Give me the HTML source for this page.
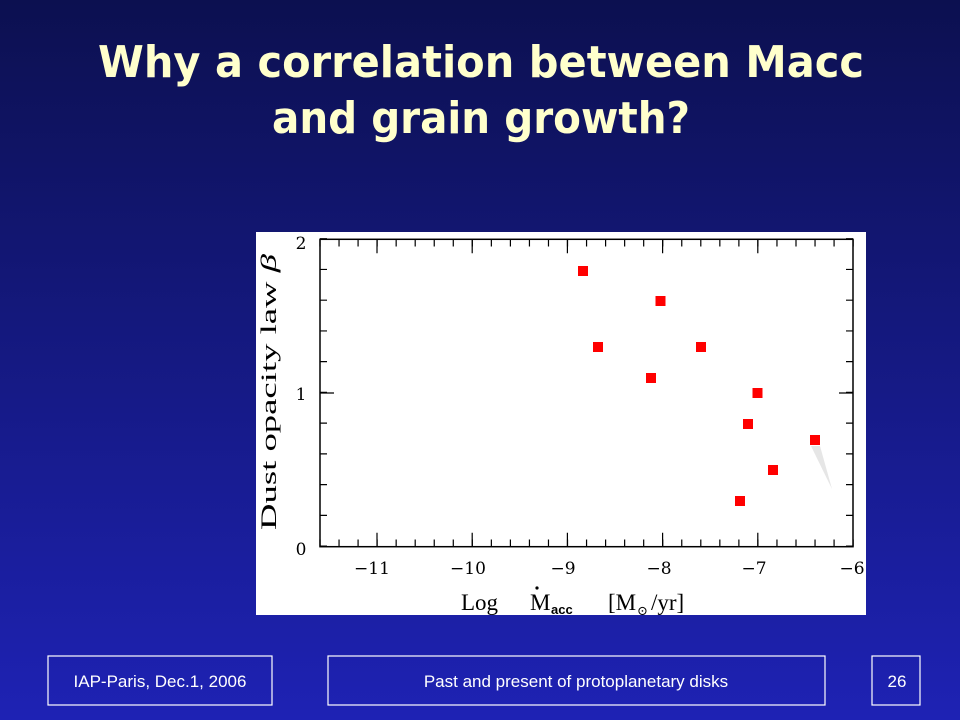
<!DOCTYPE html>
<html><head><meta charset="utf-8"><style>
html,body{margin:0;padding:0;width:960px;height:720px;overflow:hidden}
</style></head><body>
<svg width="960" height="720" xmlns="http://www.w3.org/2000/svg">
<defs><linearGradient id="bg" x1="0" y1="0" x2="0" y2="1">
<stop offset="0" stop-color="#0c1050"/><stop offset="1" stop-color="#1e22b4"/></linearGradient></defs>
<rect width="960" height="720" fill="url(#bg)"/>
<g fill="#ffffcc" font-family="'DejaVu Sans',sans-serif" font-weight="bold" font-size="44" text-anchor="middle">
<text x="481" y="77" textLength="766" lengthAdjust="spacingAndGlyphs">Why a correlation between Macc</text>
<text x="481" y="133" textLength="418" lengthAdjust="spacingAndGlyphs">and grain growth?</text>
</g>
<rect x="256" y="232" width="610" height="383" fill="#fff"/>
<g stroke="#000" fill="none">
<rect x="320" y="239.3" width="533" height="307.4" stroke-width="1.5"/>
<line x1="319.4" y1="543" x2="854" y2="543" stroke-width="7" stroke-dasharray="1.2 17.84"/>
<line x1="319.4" y1="243" x2="854" y2="243" stroke-width="7" stroke-dasharray="1.2 17.84"/>
<line x1="323.5" y1="546.7" x2="323.5" y2="238" stroke-width="7" stroke-dasharray="1.2 29.54"/>
<line x1="849.5" y1="546.7" x2="849.5" y2="238" stroke-width="7" stroke-dasharray="1.2 29.54"/>
<path stroke-width="1.2" d="M377 546.7v-14M472.2 546.7v-14M567.4 546.7v-14M662.6 546.7v-14M757.8 546.7v-14
M377 239.3v14M472.2 239.3v14M567.4 239.3v14M662.6 239.3v14M757.8 239.3v14
M320 393h14M853 393h-14"/>
</g>
<path d="M811 446 L820 446 L832 489 Z" fill="#e6e6e6"/>
<g fill="#ff0000">
<rect x="578" y="266" width="10" height="10"/>
<rect x="593" y="342" width="10" height="10"/>
<rect x="655.5" y="296" width="10" height="10"/>
<rect x="646" y="373" width="10" height="10"/>
<rect x="696" y="342" width="10" height="10"/>
<rect x="752.5" y="388" width="10" height="10"/>
<rect x="743" y="419" width="10" height="10"/>
<rect x="810" y="435" width="10" height="10"/>
<rect x="768" y="465" width="10" height="10"/>
<rect x="735" y="496" width="10" height="10"/>
</g>
<g font-family="'DejaVu Serif','Liberation Serif',serif" font-size="17" fill="#000">
<text x="301" y="249" text-anchor="middle">2</text>
<text x="301" y="400" text-anchor="middle">1</text>
<text x="301" y="555" text-anchor="middle">0</text>
<g text-anchor="middle">
<text x="372" y="574">−11</text>
<text x="468" y="574">−10</text>
<text x="563" y="574">−9</text>
<text x="659" y="574">−8</text>
<text x="754" y="574">−7</text>
<text x="852" y="574">−6</text>
</g>
<text x="461" y="610" font-size="23" font-family="'Liberation Serif',serif">Log</text>
<text x="530" y="610" font-size="23" font-family="'Liberation Serif',serif">M</text>
<circle cx="537" cy="588" r="1.6" fill="#000"/>
<text x="551" y="614" font-size="13" font-weight="bold" font-family="'Liberation Sans',sans-serif">acc</text>
<text x="608" y="610" font-size="23" font-family="'Liberation Serif',serif">[M</text>
<text x="637" y="615" font-size="13">⊙</text>
<text x="651" y="610" font-size="23" font-family="'Liberation Serif',serif">/yr]</text>
<text transform="translate(276 392) rotate(-90)" text-anchor="middle" font-size="22" font-family="'Liberation Serif',serif" textLength="276" lengthAdjust="spacingAndGlyphs">Dust  opacity  law  <tspan font-style="italic">β</tspan></text>
</g>
<g fill="none" stroke="#fff" stroke-width="1.2">
<rect x="48" y="656" width="224" height="49"/>
<rect x="328" y="656" width="497" height="49"/>
<rect x="872" y="656" width="48" height="49"/>
</g>
<g fill="#fff" font-family="'Liberation Sans',sans-serif" font-size="17" text-anchor="middle">
<text x="160" y="687">IAP-Paris, Dec.1, 2006</text>
<text x="576" y="687">Past and present of protoplanetary disks</text>
<text x="897" y="687">26</text>
</g>
</svg>
</body></html>
